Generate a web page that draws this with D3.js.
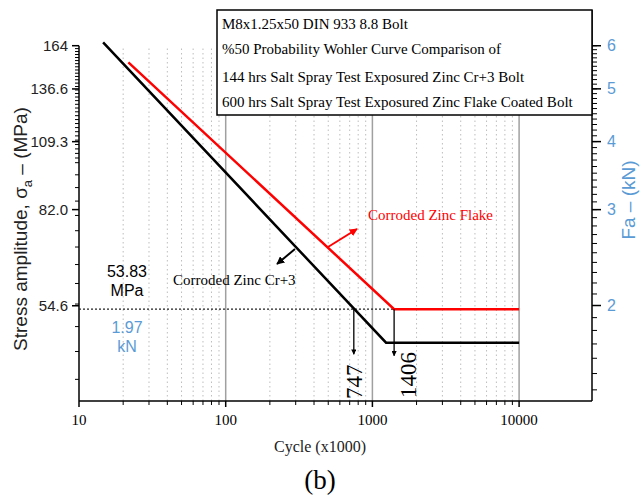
<!DOCTYPE html>
<html>
<head>
<meta charset="utf-8">
<script src="https://cdn.jsdelivr.net/npm/d3@7"></script>
<style>
body{margin:0;background:#fff;}
.serif{font-family:"Liberation Serif","Times New Roman",serif;}
.sans{font-family:"Liberation Sans",Arial,sans-serif;}
</style>
</head>
<body>
<script>
// chart size
var width=641, height=497;

// data
var crCycles=[14.6,1239,10000];          // x1000 cycles
var crStress=[166.3,46.7,46.7];          // MPa
var flakeCycles=[21.7,1406,10000];
var flakeStress=[152.8,53.83,53.83];

var xTicks=[10,100,1000,10000];
var xTickLabels=["10","100","1000","10000"];
var yTicks=[54.6,82.0,109.3,136.6,164];
var yTickLabels=["54.6","82.0","109.3","136.6","164"];
var kNTicks=[2,3,4,5,6];
var kNTickLabels=["2","3","4","5","6"];
var MPaPerkN=27.33;

var limitStress=53.83;   // MPa, flake endurance
var cycles747=747, cycles1406=1406;

var legendLines=["M8x1.25x50 DIN 933 8.8 Bolt",
	"%50 Probability Wohler Curve Comparison of",
	"144 hrs Salt Spray Test Exposured Zinc Cr+3 Bolt",
	"600 hrs Salt Spray Test Exposured Zinc Flake Coated Bolt"];

var svg=d3.select("body").append("svg")
	.attr("width",width).attr("height",height);

//plot edges
var pL=79, pR=592, pT=45.7, pB=401;
var x=d3.scaleLog().domain([10,31400]).range([pL,pR]);
var y=d3.scaleLog().domain([36.5,164]).range([pB,pT]);
var yk=d3.scaleLog().domain([36.5/MPaPerkN,164/MPaPerkN]).range([pB,pT]);

var defs=svg.append("defs");
function marker(id,color){
	defs.append("marker").attr("id",id)
		.attr("viewBox","0 0 10 10").attr("refX",9).attr("refY",5)
		.attr("markerWidth",4).attr("markerHeight",4).attr("orient","auto")
		.append("path").attr("d","M0,0L10,5L0,10z").attr("fill",color);
}
marker("ab","#000");
marker("ar","#f00");

//GRID
var minorX=[];
[10,100,1000].forEach(function(d){for(var k=2;k<10;k++)minorX.push(d*k);});
svg.selectAll(".gminor").data(minorX).enter().append("line")
	.attr("x1",function(d){return x(d);}).attr("x2",function(d){return x(d);})
	.attr("y1",pB).attr("y2",48)
	.attr("stroke","#bdbdbd").attr("stroke-width",1).attr("stroke-dasharray","1.5,3");
svg.selectAll(".gmajor").data(xTicks.slice(1)).enter().append("line")
	.attr("x1",function(d){return x(d);}).attr("x2",function(d){return x(d);})
	.attr("y1",pB).attr("y2",48)
	.attr("stroke","#a0a0a0").attr("stroke-width",1.5);

//AXES
var ax=svg.append("g").attr("stroke","#000");
ax.append("line").attr("x1",pL).attr("x2",pR).attr("y1",pB).attr("y2",pB).attr("stroke-width",1.5);
ax.append("line").attr("x1",pL).attr("x2",pL).attr("y1",pT).attr("y2",pB).attr("stroke-width",1.5);
ax.append("line").attr("x1",pR).attr("x2",pR).attr("y1",10).attr("y2",pB).attr("stroke-width",1.5);

// x ticks
ax.selectAll(".xmin").data(minorX).enter().append("line")
	.attr("x1",function(d){return x(d);}).attr("x2",function(d){return x(d);})
	.attr("y1",pB).attr("y2",pB+4);
ax.selectAll(".xmaj").data(xTicks).enter().append("line")
	.attr("x1",function(d){return x(d);}).attr("x2",function(d){return x(d);})
	.attr("y1",pB).attr("y2",pB+6).attr("stroke-width",1.5);
svg.selectAll(".xl").data(xTicks).enter().append("text")
	.attr("class","serif").attr("x",function(d){return x(d);}).attr("y",425)
	.attr("text-anchor","middle").attr("font-size",15)
	.text(function(d,i){return xTickLabels[i];});

// left y ticks
var minorY=d3.range(40,100,5).concat(d3.range(100,164,2));
ax.selectAll(".ymin").data(minorY).enter().append("line")
	.attr("x1",pL-4).attr("x2",pL)
	.attr("y1",function(d){return y(d);}).attr("y2",function(d){return y(d);});
ax.selectAll(".ymaj").data(yTicks).enter().append("line")
	.attr("x1",pL-7).attr("x2",pL)
	.attr("y1",function(d){return y(d);}).attr("y2",function(d){return y(d);}).attr("stroke-width",1.5);
svg.selectAll(".yl").data(yTicks).enter().append("text")
	.attr("class","sans").attr("x",pL-11).attr("y",function(d){return y(d);})
	.attr("dy","0.35em").attr("text-anchor","end").attr("font-size",15).attr("fill","#222")
	.text(function(d,i){return yTickLabels[i];});

// right kN ticks
var minorK=d3.range(1.4,6.01,0.1);
ax.selectAll(".kmin").data(minorK).enter().append("line")
	.attr("x1",pR).attr("x2",pR+5)
	.attr("y1",function(d){return yk(d);}).attr("y2",function(d){return yk(d);});
ax.selectAll(".kmaj").data(kNTicks).enter().append("line")
	.attr("x1",pR).attr("x2",pR+9)
	.attr("y1",function(d){return yk(d);}).attr("y2",function(d){return yk(d);}).attr("stroke-width",1.5);
svg.selectAll(".kl").data(kNTicks).enter().append("text")
	.attr("class","sans").attr("x",pR+15).attr("y",function(d){return yk(d);})
	.attr("dy","0.35em").attr("font-size",16).attr("fill","#5b9bd5")
	.text(function(d,i){return kNTickLabels[i];});

// axis titles
var yt=svg.append("text").attr("class","sans").attr("font-size",19).attr("fill","#222")
	.attr("text-anchor","middle").attr("transform","translate(27,229) rotate(-90)");
yt.append("tspan").text("Stress amplitude, σ");
yt.append("tspan").attr("font-size",13).attr("dy",5).text("a");
yt.append("tspan").attr("dy",-5).text(" – (MPa)");
svg.append("text").attr("class","sans").attr("font-size",19).attr("fill","#5b9bd5")
	.attr("text-anchor","middle").attr("transform","translate(635,200) rotate(-90)")
	.text("Fa – (kN)");
svg.append("text").attr("class","serif").attr("font-size",16).attr("fill","#222")
	.attr("x",320).attr("y",452).attr("text-anchor","middle").text("Cycle (x1000)");
svg.append("text").attr("class","serif").attr("font-size",27).attr("fill","#000")
	.attr("x",320).attr("y",489).attr("text-anchor","middle").text("(b)");

//DOTTED LIMIT LINE
svg.append("line").attr("x1",pL).attr("x2",x(cycles1406))
	.attr("y1",y(limitStress)).attr("y2",y(limitStress))
	.attr("stroke","#222").attr("stroke-width",1.3).attr("stroke-dasharray","2,2");

//CURVES
var line=d3.line().x(function(d){return x(d[0]);}).y(function(d){return y(d[1]);});
svg.append("path").datum(d3.zip(crCycles,crStress)).attr("d",line)
	.attr("fill","none").attr("stroke","#000").attr("stroke-width",2.5);
svg.append("path").datum(d3.zip(flakeCycles,flakeStress)).attr("d",line)
	.attr("fill","none").attr("stroke","#f00").attr("stroke-width",2.5);

//CYCLE ARROWS
[[cycles747,44.5],[cycles1406,44.2]].forEach(function(a){
	svg.append("line").attr("x1",x(a[0])).attr("x2",x(a[0]))
		.attr("y1",y(limitStress)).attr("y2",y(a[1]))
		.attr("stroke","#000").attr("stroke-width",1.3).attr("marker-end","url(#ab)");
});
svg.append("text").attr("class","serif").attr("font-size",23)
	.attr("transform","translate("+(x(cycles747)+8)+",399) rotate(-90)").text("747");
svg.append("text").attr("class","serif").attr("font-size",23)
	.attr("transform","translate("+(x(cycles1406)+22)+",398) rotate(-90)").text("1406");

//LABELS
svg.append("text").attr("class","sans").attr("font-size",16).attr("x",127).attr("y",277)
	.attr("text-anchor","middle").text("53.83");
svg.append("text").attr("class","sans").attr("font-size",16).attr("x",127).attr("y",296)
	.attr("text-anchor","middle").text("MPa");
svg.append("text").attr("class","sans").attr("font-size",16).attr("x",127).attr("y",333)
	.attr("text-anchor","middle").attr("fill","#5b9bd5").text("1.97");
svg.append("text").attr("class","sans").attr("font-size",16).attr("x",127).attr("y",352)
	.attr("text-anchor","middle").attr("fill","#5b9bd5").text("kN");

svg.append("text").attr("class","serif").attr("font-size",15).attr("x",173).attr("y",285)
	.text("Corroded Zinc Cr+3");
svg.append("line").attr("x1",295).attr("y1",249).attr("x2",277).attr("y2",264)
	.attr("stroke","#000").attr("stroke-width",2).attr("marker-end","url(#ab)");
svg.append("text").attr("class","serif").attr("font-size",15).attr("x",368).attr("y",220)
	.attr("fill","#f00").text("Corroded Zinc Flake");
svg.append("line").attr("x1",328).attr("y1",247).attr("x2",357).attr("y2",229)
	.attr("stroke","#f00").attr("stroke-width",2).attr("marker-end","url(#ar)");

//LEGEND BOX
svg.append("rect").attr("x",217).attr("y",10).attr("width",pR-217).attr("height",105)
	.attr("fill","#fff").attr("stroke","#000").attr("stroke-width",1.5);
svg.selectAll(".lg").data(legendLines).enter().append("text")
	.attr("class","serif").attr("font-size",15).attr("x",222)
	.attr("y",function(d,i){return [29,54,82,107][i];})
	.text(function(d){return d;});
</script>
</body>
</html>
